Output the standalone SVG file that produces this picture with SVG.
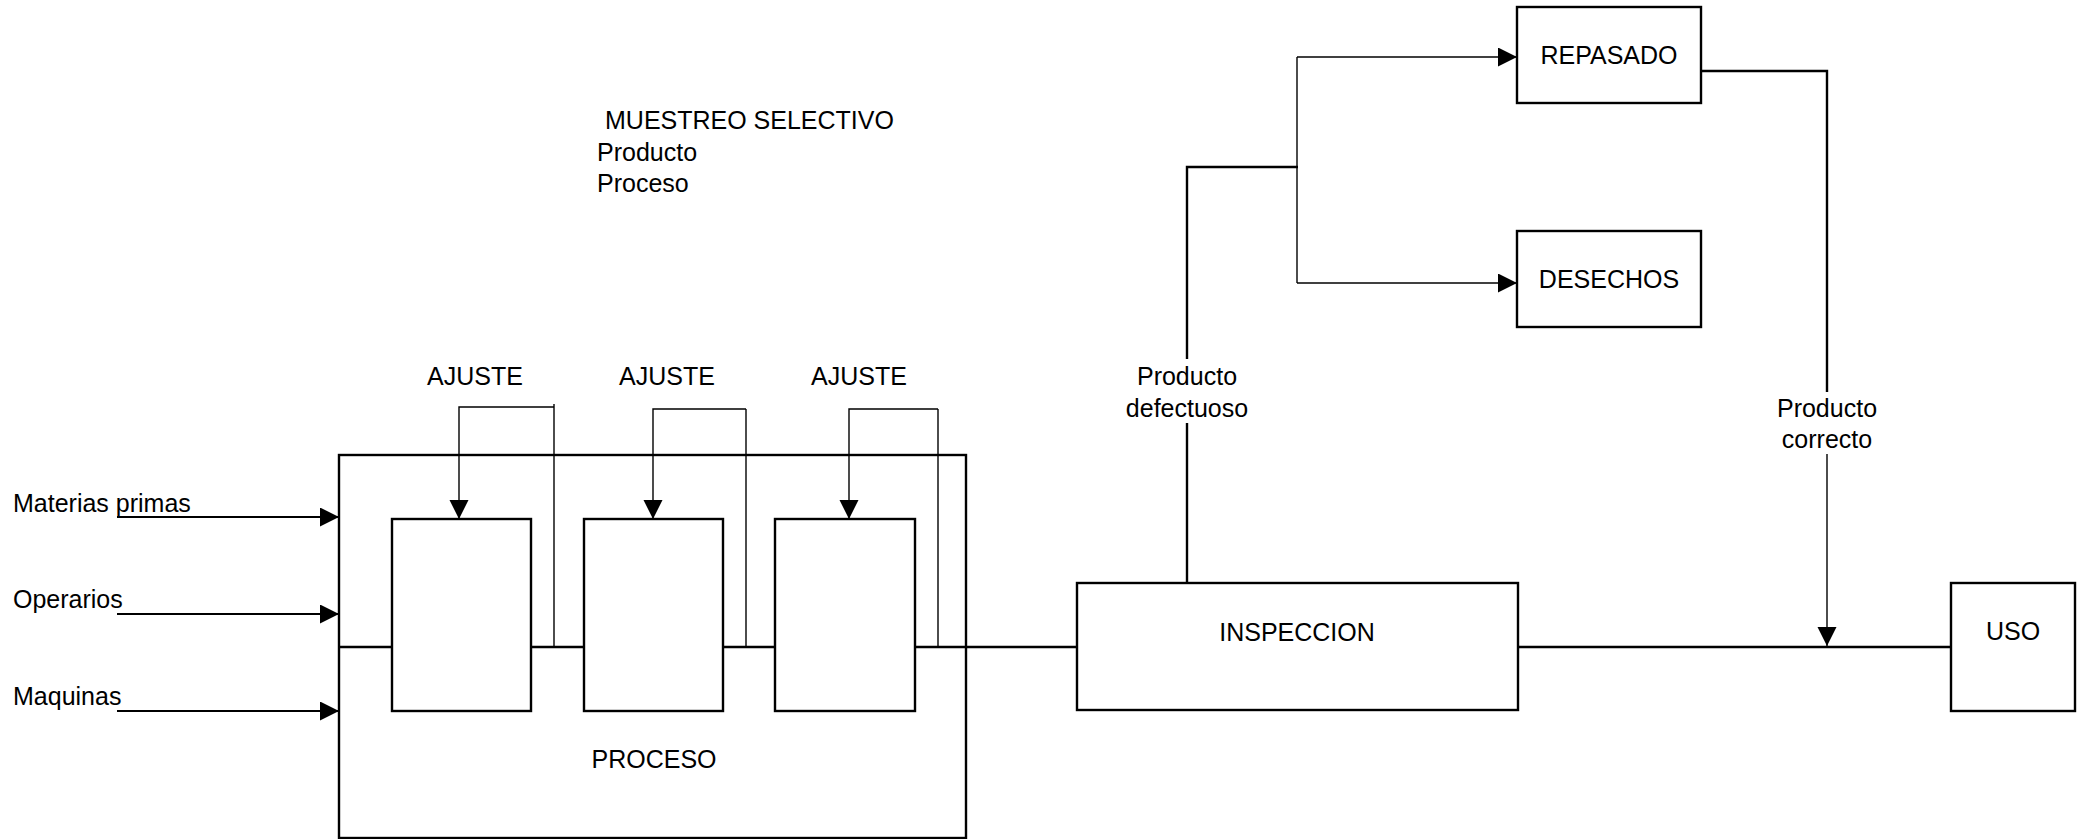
<svg xmlns="http://www.w3.org/2000/svg" width="2084" height="839" viewBox="0 0 2084 839">
<style>
  text { font-family: "Liberation Sans", Arial, sans-serif; font-size: 25px; fill: #000; }
  .c { text-anchor: middle; }
  .box { fill: #fff; stroke: #000; stroke-width: 2.4; }
  .thick { fill: none; stroke: #000; stroke-width: 2.4; }
  .thin { fill: none; stroke: #000; stroke-width: 1.4; }
</style>
<defs>
  <marker id="arr" markerUnits="userSpaceOnUse" markerWidth="20" markerHeight="20" refX="19" refY="9.5" orient="auto">
    <path d="M0,0 L19,9.5 L0,19 z" fill="#000"/>
  </marker>
</defs>

<g id="muestreo">
  <text x="605" y="129">MUESTREO SELECTIVO</text>
  <text x="597" y="161">Producto</text>
  <text x="597" y="192">Proceso</text>
</g>

<g id="proceso">
  <rect class="box" x="339" y="455" width="627" height="383"/>
  <text class="c" x="654" y="768">PROCESO</text>
</g>

<g id="connectors">
  <!-- main flow line -->
  <line class="thick" x1="339" y1="647" x2="1077" y2="647"/>
  <line class="thick" x1="1518" y1="647" x2="1951" y2="647"/>
  <!-- inputs -->
  <line class="thin" x1="117" y1="517" x2="339" y2="517" marker-end="url(#arr)" style="stroke-width:1.8"/>
  <line class="thin" x1="117" y1="614" x2="339" y2="614" marker-end="url(#arr)" style="stroke-width:1.8"/>
  <line class="thin" x1="117" y1="711" x2="339" y2="711" marker-end="url(#arr)" style="stroke-width:1.8"/>
  <!-- ajuste loops -->
  <line class="thin" x1="554" y1="404" x2="554" y2="647"/>
  <path class="thin" d="M554,407 H459 V519" marker-end="url(#arr)"/>
  <line class="thin" x1="746" y1="409" x2="746" y2="647"/>
  <path class="thin" d="M746,409 H653 V519" marker-end="url(#arr)"/>
  <line class="thin" x1="938" y1="409" x2="938" y2="647"/>
  <path class="thin" d="M938,409 H849 V519" marker-end="url(#arr)"/>
  <!-- producto defectuoso -->
  <line class="thick" x1="1187" y1="583" x2="1187" y2="423"/>
  <path class="thick" d="M1187,359 V167 H1298"/>
  <line class="thin" x1="1297" y1="57" x2="1297" y2="283"/>
  <line class="thin" x1="1297" y1="57" x2="1517" y2="57" marker-end="url(#arr)"/>
  <line class="thin" x1="1297" y1="283" x2="1517" y2="283" marker-end="url(#arr)"/>
  <!-- producto correcto -->
  <path class="thick" d="M1701,71 H1827 V392"/>
  <line class="thin" x1="1827" y1="454" x2="1827" y2="646" marker-end="url(#arr)"/>
</g>

<g id="labels">
  <text x="13" y="512">Materias primas</text>
  <text x="13" y="608">Operarios</text>
  <text x="13" y="705">Maquinas</text>
  <text class="c" x="475" y="385">AJUSTE</text>
  <text class="c" x="667" y="385">AJUSTE</text>
  <text class="c" x="859" y="385">AJUSTE</text>
  <text class="c" x="1187" y="385">Producto</text>
  <text class="c" x="1187" y="417">defectuoso</text>
  <text class="c" x="1827" y="417">Producto</text>
  <text class="c" x="1827" y="448">correcto</text>
</g>

<g id="etapa1"><rect class="box" x="392" y="519" width="139" height="192"/></g>
<g id="etapa2"><rect class="box" x="584" y="519" width="139" height="192"/></g>
<g id="etapa3"><rect class="box" x="775" y="519" width="140" height="192"/></g>

<g id="inspeccion">
  <rect class="box" x="1077" y="583" width="441" height="127"/>
  <text class="c" x="1297" y="641">INSPECCION</text>
</g>

<g id="repasado">
  <rect class="box" x="1517" y="7" width="184" height="96"/>
  <text class="c" x="1609" y="64">REPASADO</text>
</g>

<g id="desechos">
  <rect class="box" x="1517" y="231" width="184" height="96"/>
  <text class="c" x="1609" y="288">DESECHOS</text>
</g>

<g id="uso">
  <rect class="box" x="1951" y="583" width="124" height="128"/>
  <text class="c" x="2013" y="640">USO</text>
</g>
</svg>
